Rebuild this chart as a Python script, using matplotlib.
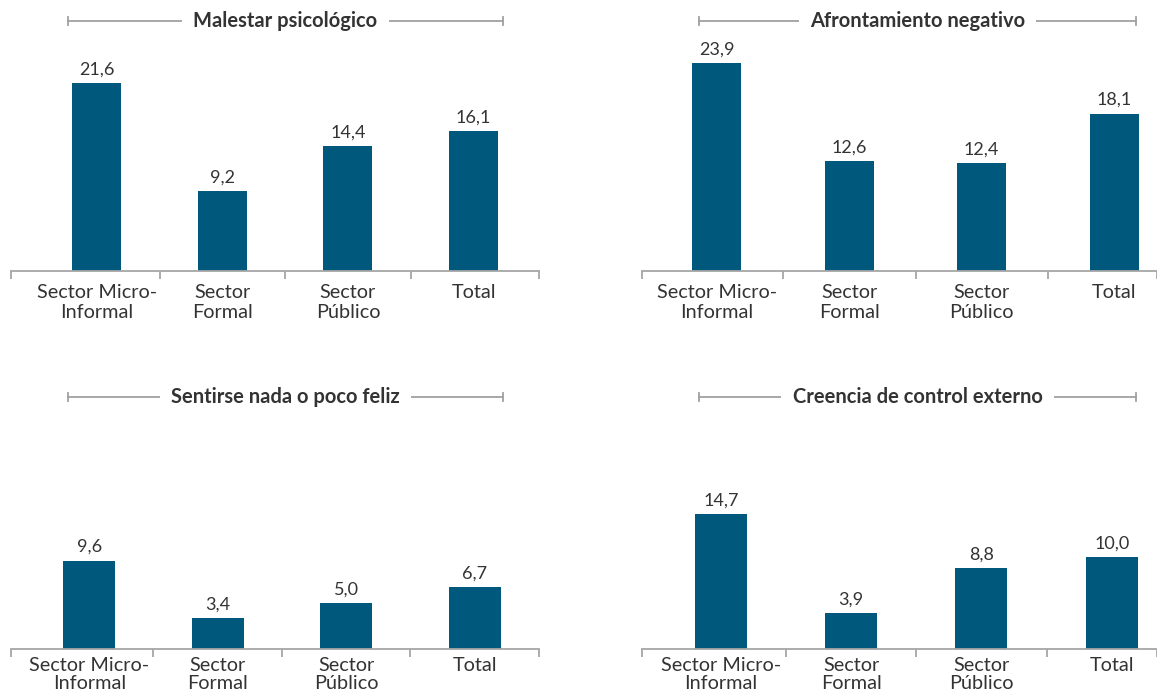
import matplotlib
matplotlib.use("Agg")
import matplotlib.pyplot as plt
from matplotlib.lines import Line2D

categories = ["Sector Micro-\nInformal", "Sector\nFormal", "Sector\nPúblico", "Total"]
titles = ["Malestar psicológico", "Afrontamiento negativo",
          "Sentirse nada o poco feliz", "Creencia de control externo"]
malestar = [21.6, 9.2, 14.4, 16.1]
afrontamiento = [23.9, 12.6, 12.4, 18.1]
sentirse = [9.6, 3.4, 5.0, 6.7]
creencia = [14.7, 3.9, 8.8, 10.0]
series = [malestar, afrontamiento, sentirse, creencia]

W, H = 1157, 697
BAR = "#00587C"
TXT = "#333333"
AXC = "#a6a6a6"
LINEC = "#a0a0a0"

plt.rcParams['font.family'] = ['Lato', 'DejaVu Sans']

fig = plt.figure(figsize=(W / 100, H / 100), dpi=100)

# layout per panel in pixels
layouts = [
    dict(left=11, right=539, base=271, top=30, c0=96.7, step=125.6, bw=49, ppu=8.7, ty=21, lx0=68, lx1=503, pad=9.5, ls=1.22),
    dict(left=642, right=1157, base=271, top=30, c0=716.9, step=132.4, bw=49, ppu=8.7, ty=21, lx0=699, lx1=1136, pad=9.5, ls=1.22),
    dict(left=11, right=539, base=649, top=410, c0=89.2, step=128.45, bw=52, ppu=9.2, ty=397, lx0=68, lx1=503, pad=5.5, ls=1.07),
    dict(left=642, right=1157, base=649, top=410, c0=720.8, step=130.3, bw=52, ppu=9.2, ty=397, lx0=699, lx1=1136, pad=5.5, ls=1.07),
]


def fx(px):
    return px / W


def fy(py):
    return 1 - py / H


for lay, vals, title in zip(layouts, series, titles):
    ax = fig.add_axes([fx(lay['left']), fy(lay['base']),
                       (lay['right'] - lay['left']) / W, (lay['base'] - lay['top']) / H])
    x0 = (lay['left'] - lay['c0']) / lay['step']
    x1 = (lay['right'] - lay['c0']) / lay['step']
    ax.set_xlim(x0, x1)
    ax.set_ylim(0, (lay['base'] - lay['top']) / lay['ppu'])
    xs = list(range(len(categories)))
    bars = ax.bar(xs, vals, width=lay['bw'] / lay['step'], color=BAR, zorder=2)
    ax.bar_label(bars, labels=[f"{v:.1f}".replace('.', ',') for v in vals],
                 padding=4, fontsize=13, color=TXT)
    for s in ['top', 'left', 'right']:
        ax.spines[s].set_visible(False)
    ax.spines['bottom'].set_color(AXC)
    ax.spines['bottom'].set_linewidth(1.3)
    ax.set_yticks([])
    ax.set_xticks([x0] + [i + 0.5 for i in xs[:-1]] + [x1])
    ax.set_xticklabels([])
    ax.tick_params(axis='x', which='major', length=6, width=1.3, color=AXC)
    ax.set_xticks(xs, minor=True)
    ax.set_xticklabels(categories, minor=True, fontsize=14.3, color=TXT, linespacing=lay['ls'])
    ax.tick_params(axis='x', which='minor', length=0, pad=lay['pad'])
    ax.patch.set_alpha(0)

    # title with bracket line
    yy = fy(lay['ty'])
    fig.add_artist(Line2D([fx(lay['lx0']), fx(lay['lx1'])], [yy, yy], color=LINEC, lw=1.3, zorder=1))
    for ex in (lay['lx0'], lay['lx1']):
        fig.add_artist(Line2D([fx(ex), fx(ex)], [yy - 4 / H, yy + 4 / H], color=LINEC, lw=1.3, zorder=1))
    fig.text(fx((lay['lx0'] + lay['lx1']) / 2), yy, title, ha='center', va='center',
             fontsize=14.5, fontweight='bold', color=TXT, zorder=5,
             bbox=dict(boxstyle='square,pad=0.55', fc='white', ec='none'))

fig.savefig("out.png", dpi=100, facecolor='white')
